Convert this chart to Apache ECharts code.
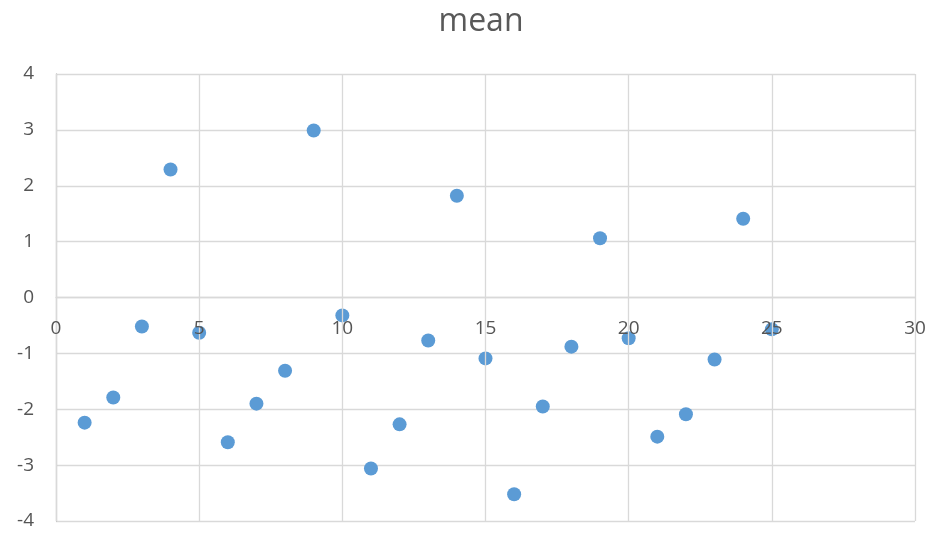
<!DOCTYPE html>
<html>
<head>
<meta charset="utf-8">
<script src="https://cdn.jsdelivr.net/npm/echarts@6/dist/echarts.min.js"></script>
<style>html,body{margin:0;padding:0;background:#fff}#c{width:935px;height:536px}</style>
</head>
<body>
<div id="c"></div>
<script>
const titleText = "mean";
const xValues = [1,2,3,4,5,6,7,8,9,10,11,12,13,14,15,16,17,18,19,20,21,22,23,24,25];
const meanValues = [-2.24,-1.79,-0.52,2.29,-0.63,-2.59,-1.90,-1.31,2.99,-0.32,-3.06,-2.27,-0.77,1.82,-1.09,-3.52,-1.95,-0.88,1.06,-0.73,-2.49,-2.09,-1.11,1.41,-0.57];
const xAxisRange = [0, 30, 5];
const yAxisRange = [-4, 4, 1];

const chart = echarts.init(document.getElementById('c'));
const fontFam = '"Open Sans","Noto Sans",sans-serif';
const option = {
  animation: false,
  backgroundColor: '#ffffff',
  title: {
    text: titleText, left: 476, textAlign: 'center', top: 1,
    textStyle: {fontFamily: fontFam, fontSize: 32, fontWeight: 'normal', color: '#595959'}
  },
  grid: {left: 56, right: 20, top: 74, bottom: 15, containLabel: false, outerBoundsMode: 'none'},
  xAxis: {
    type: 'value', min: xAxisRange[0], max: xAxisRange[1], interval: xAxisRange[2], z: 5,
    position: 'bottom', offset: 0,
    axisLine: {show: true, onZero: true, lineStyle: {color: '#d9d9d9', width: 1.3}},
    axisTick: {show: false},
    axisLabel: {fontFamily: fontFam, fontSize: 19, color: '#555555', margin: 22},
    splitLine: {show: true, lineStyle: {color: '#d9d9d9', width: 1.3}}
  },
  yAxis: {
    type: 'value', min: yAxisRange[0], max: yAxisRange[1], interval: yAxisRange[2],
    axisLine: {show: true, onZero: false, lineStyle: {color: '#bfbfbf', width: 1.3}},
    axisTick: {show: false},
    axisLabel: {fontFamily: fontFam, fontSize: 19, color: '#555555', margin: 22},
    splitLine: {show: true, lineStyle: {color: '#d9d9d9', width: 1.3}}
  },
  series: [{
    type: 'scatter',
    data: xValues.map((x, i) => [x, meanValues[i]]),
    symbolSize: 14,
    itemStyle: {color: '#5b9bd5', opacity: 1}
  }]
};
chart.setOption(option);
// place the x axis on y = 0 using the library's own scale
const zeroPx = chart.convertToPixel({yAxisIndex: 0}, 0);
const bottomPx = chart.convertToPixel({yAxisIndex: 0}, yAxisRange[0]);
if (Math.abs(bottomPx - zeroPx) > 1) {
  chart.setOption({xAxis: {offset: -(bottomPx - zeroPx)}});
}
</script>
</body>
</html>
